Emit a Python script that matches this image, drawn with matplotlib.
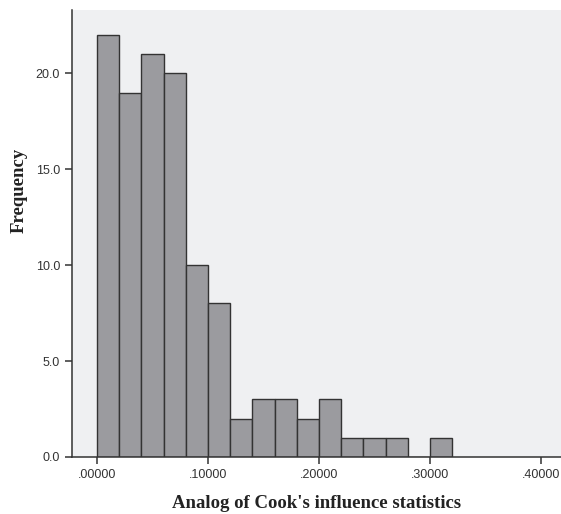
import numpy as np
import matplotlib
matplotlib.use('Agg')
import matplotlib.pyplot as plt
from matplotlib.ticker import FuncFormatter

# histogram bins (width .02) and frequencies
bin_edges = np.arange(0, 0.34, 0.02)
counts = [22, 19, 21, 20, 10, 8, 2, 3, 3, 2, 3, 1, 1, 1, 0, 1]

fig = plt.figure(figsize=(5.61, 5.14), dpi=100)
ax = fig.add_axes([0.1283, 0.111, 0.8717, 0.8695])
ax.set_facecolor('#eff0f2')

ax.bar(bin_edges[:-1], counts, width=0.02, align='edge',
       color='#9b9b9f', edgecolor='#333333', linewidth=1.0, zorder=2)

ax.set_xlim(-0.0225, 0.418)
ax.set_ylim(0, 23.3)
ax.set_xticks([0, 0.1, 0.2, 0.3, 0.4])
ax.set_yticks([0, 5, 10, 15, 20])
ax.xaxis.set_major_formatter(FuncFormatter(lambda v, p: f'{v:.5f}'.lstrip('0')))
ax.yaxis.set_major_formatter(FuncFormatter(lambda v, p: f'{v:.1f}'))

for s in ['top', 'right']:
    ax.spines[s].set_visible(False)
for s in ['left', 'bottom']:
    ax.spines[s].set_color('#333333')
    ax.spines[s].set_linewidth(1.1)

ax.tick_params(axis='both', direction='out', length=5, width=1.1, color='#333333',
               labelsize=9, labelcolor='#333333')
for lab in ax.get_xticklabels() + ax.get_yticklabels():
    lab.set_family('Liberation Sans')

ax.set_xlabel("Analog of Cook's influence statistics", family='Liberation Serif',
              fontweight='bold', fontsize=13.5, color='#222222', labelpad=10)
ax.set_ylabel('Frequency', family='Liberation Serif', fontweight='bold',
              fontsize=13.5, color='#222222')
ax.yaxis.set_label_coords(-0.09, 0.597)

fig.savefig('out.png', dpi=100)
